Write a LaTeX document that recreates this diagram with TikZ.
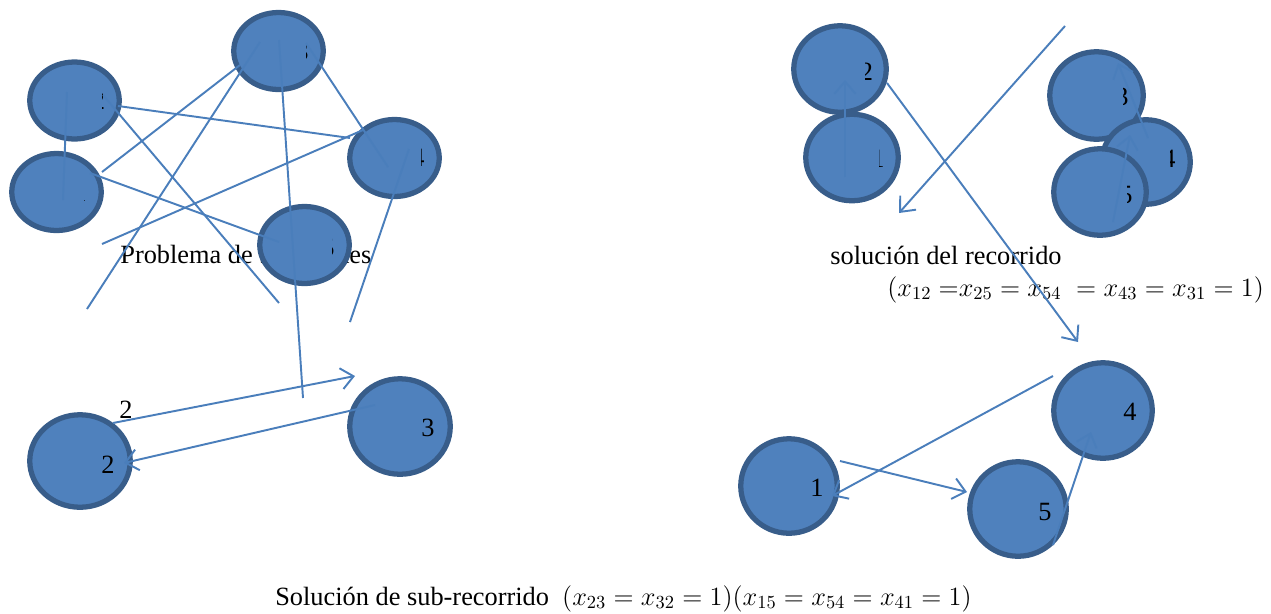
\RequirePackage{fix-cm}
\documentclass[tikz,border=0pt]{standalone}
\usepackage{fontspec}
\setmainfont{Liberation Serif}
\usepackage{xcolor}
\definecolor{cityfill}{HTML}{4F81BD}
\definecolor{cityedge}{HTML}{385D8A}
\definecolor{tour}{HTML}{4A7EBB}
\usetikzlibrary{arrows.meta,shapes.geometric}

\begin{document}
\begin{tikzpicture}[x=0.02cm, y=-0.02cm, font=\fontsize{15}{18}\selectfont,
	city/.style 2 args={ellipse, draw=cityedge, fill=cityfill, line width=3pt,
		minimum width=#1, minimum height=#2, inner sep=0pt},
	arc/.style={tour, line width=1.1pt},
	tourarrow/.style={arc, -{Straight Barb[length=7pt,width=12pt]}},
	numlbl/.style={inner sep=0pt}]

	\useasboundingbox (0,0) rectangle (1271,613);

	% ================= Top left: all the links between the cities =================
	\node[inner sep=0pt, anchor=base west] (probtxt) at (120,263) {Problema de 5 ciudades};

	\node[city={1.79cm}{1.54cm}] (c2) at (74.5,100.5) {};
	\node[city={1.79cm}{1.54cm}] (c1) at (56.5,192) {};
	\node[city={1.79cm}{1.54cm}] (c3) at (278.5,51) {};
	\node[city={1.79cm}{1.54cm}] (c4) at (394.5,158) {};
	\node[city={1.79cm}{1.54cm}] (c5) at (304.5,245) {};

	% numbers cut off at the right of each city
	\foreach \nm/\xa/\xb/\yb/\d in {tl2/102/104.5/109/2, tl3/306/308/60/3, tl1/84.5/86/201/1,
			tl4/421/424/166/4, tl5/332/334/256/5}{
		\begin{scope}
			\clip (\xa,\yb-20) rectangle (\xb,\yb+2);
			\node[numlbl, anchor=base east] (\nm) at (\xb+1,\yb) {\d};
		\end{scope}
	}

	\foreach \n/\x/\y in {a0/67/92, a1/63/200, b0/102/172, b1/240/65, e0/260/42, e1/87/309,
			d0/118/106, d1/350/138, f0/103/95, f1/279/303, g0/90/173, g1/279/242,
			h0/279/40, h1/303/398, i0/306/43, i1/388/167, j0/363/130, j1/102/244,
			k0/409/149, k1/350/322}
		\coordinate (\n) at (\x,\y);
	\foreach \p/\q in {a0/a1, b0/b1, e0/e1, d0/d1, f0/f1, g0/g1, h0/h1, i0/i1, j0/j1, k0/k1}
		\draw[arc] (\p) -- (\q);

	% ================= Top right: the tour =================
	\node[city={1.85cm}{1.73cm}] (r2) at (840,69) {};
	\node[city={1.85cm}{1.73cm}] (r1) at (852,157.5) {};
	\node[city={1.87cm}{1.75cm}] (r3) at (1096.5,95.5) {};
	\node[city={1.77cm}{1.69cm}] (r4) at (1146,162) {};
	\node[city={1.85cm}{1.73cm}] (r5) at (1100,192) {};

	\foreach \nm/\xa/\xb/\yb/\d in {tr2/865/872.5/80/2, tr1/879/884/167/1, tr3/1123/1128/105/3,
			tr4/1170/1175/167/4, tr5/1127/1132/203/5}{
		\begin{scope}
			\clip (\xa,\yb-20) rectangle (\xb,\yb+2);
			\node[numlbl, anchor=base east] (\nm) at (\xb+1,\yb) {\d};
		\end{scope}
	}

	\node[inner sep=0pt, anchor=base west] (tourtxt) at (830,264) {solución del recorrido};
	\node[inner sep=0pt, anchor=base west] (tourmath) at (887,296)
		{$(x_{12}\;{=}x_{25} = x_{54}\; = x_{43} = x_{31} = 1)$};

	\foreach \n/\x/\y in {m0/845/177, m1/845/80, n0/887/83, n1/1078/342, o0/1065/26, o1/899/213,
			p0/1113/222, p1/1130/135, q0/1148/138, q1/1118/63}
		\coordinate (\n) at (\x,\y);
	\foreach \p/\q in {m0/m1, n0/n1, o0/o1, p0/p1, q0/q1}
		\draw[tourarrow] (\p) -- (\q);

	% ================= Bottom: the two sub-tours =================
	\node[city={2.01cm}{1.85cm}] (s2) at (80,461) {};
	\node[city={2.01cm}{1.91cm}] (s3) at (400,426.5) {};
	\node[numlbl] (s2num) at (108,465) {2};
	\node[numlbl] (s3num) at (428,428) {3};
	\node[numlbl] (s23num) at (126,410) {2};

	\node[city={1.93cm}{1.89cm}] (u1) at (789,486) {};
	\node[city={1.93cm}{1.89cm}] (u5) at (1018,509) {};
	\node[city={1.97cm}{1.91cm}] (u4) at (1103,410.5) {};
	\node[numlbl] (u1num) at (817,488) {1};
	\node[numlbl] (u5num) at (1045,512) {5};
	\node[numlbl] (u4num) at (1130,412) {4};

	\foreach \n/\x/\y in {v0/113/423, v1/355/376, w0/375/405, w1/124/463,
			x0/840/461, x1/967/492, y0/1053/376, y1/832/496, z0/1053/545, z1/1091/432}
		\coordinate (\n) at (\x,\y);
	\foreach \p/\q in {v0/v1, w0/w1, x0/x1, y0/y1, z0/z1}
		\draw[tourarrow] (\p) -- (\q);

	\node[inner sep=0pt, anchor=base] (subtxt) at (623.5,605)
		{Solución de sub-recorrido\ \ $(x_{23} = x_{32} = 1)(x_{15} = x_{54} = x_{41} = 1)$};

\end{tikzpicture}
\end{document}
